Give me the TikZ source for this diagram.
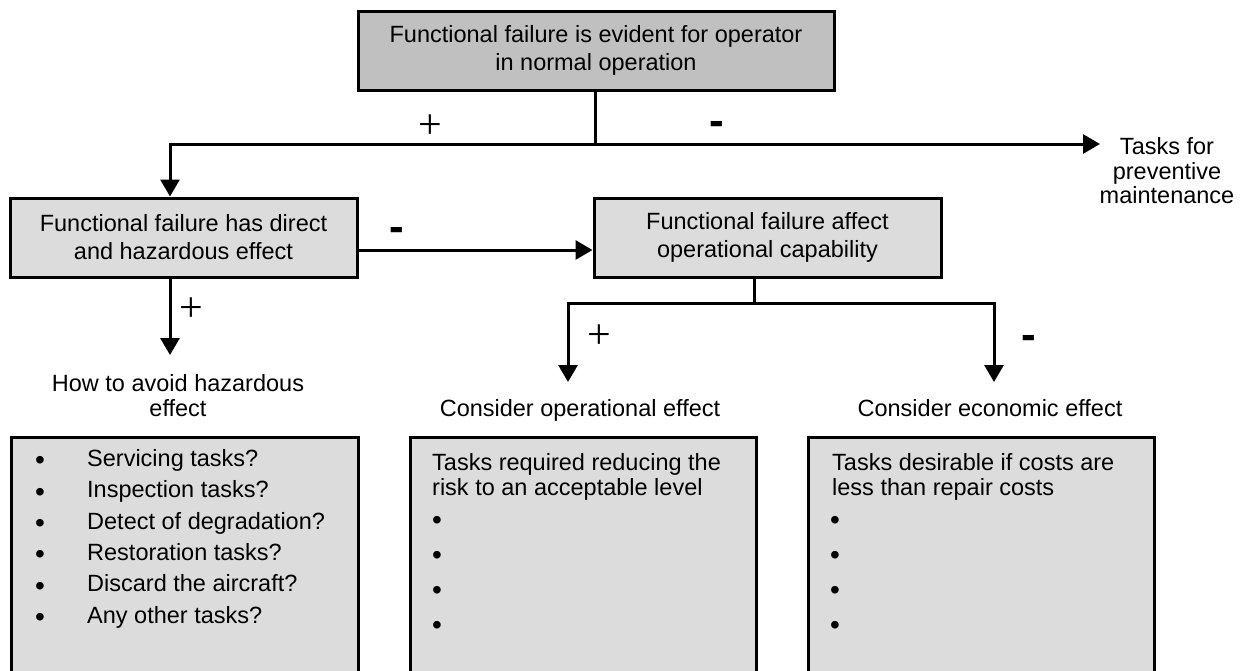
\documentclass[tikz,border=0pt]{standalone}
\usepackage{fontspec}
\setmainfont{Liberation Sans}
\newfontfamily\plusfont{Liberation Serif}
\usetikzlibrary{arrows.meta}
\definecolor{darkfill}{RGB}{192,192,192}
\definecolor{lightfill}{RGB}{220,220,220}
\newcommand\mybullet{\raisebox{-3.5pt}{\fontsize{28}{28}\selectfont •}}
\begin{document}
\begin{tikzpicture}[x=1pt,y=-1pt,
  txt/.style={font=\fontsize{23.5}{28}\selectfont, inner sep=0pt},
  box/.style={draw=black, line width=3pt, inner sep=0pt, align=center,
    font=\fontsize{23.5}{28}\selectfont},
  listbox/.style={draw=black, line width=3pt, inner sep=0pt, fill=lightfill,
    minimum height=280pt, anchor=north west},
  arr/.style={line width=3pt, -{Triangle[length=17pt,width=19pt]}},
  conn/.style={line width=3pt},
  plussign/.style={font=\plusfont\fontsize{42}{42}\selectfont, inner sep=0pt},
  minussign/.style={font=\bfseries\fontsize{44}{44}\selectfont, inner sep=0pt}
]
\clip (0,0) rectangle (1243,670);
\fill[white] (0,0) rectangle (1243,670);

% boxes
\node[box, fill=darkfill, minimum width=476pt, minimum height=79pt] (top) at (596,50.5)
  {Functional failure is evident for operator\\in normal operation};
\node[box, fill=lightfill, minimum width=347pt, minimum height=79pt] (haz) at (183.5,237.5)
  {Functional failure has direct\\and hazardous effect};
\node[box, fill=lightfill, minimum width=347pt, minimum height=79pt] (opcap) at (767.5,237.5)
  {Functional failure affect\\operational capability};

% labels
\node[txt, align=center, font=\fontsize{23.5}{24.5}\selectfont] (prev) at (1167,171)
  {Tasks for\\preventive\\maintenance};
\node[txt, align=center, font=\fontsize{23.5}{25}\selectfont] (avoid) at (178,396)
  {How to avoid hazardous\\effect};
\node[txt, anchor=base] (opeff) at (580,416) {Consider operational effect};
\node[txt, anchor=base] (ecoeff) at (990,416) {Consider economic effect};

% bottom boxes
\node[listbox, minimum width=347pt] (lbox) at (10,436) {};
\node[listbox, minimum width=346pt] (mbox) at (409,436) {};
\node[listbox, minimum width=346pt] (rbox) at (807,436) {};

\node[txt, anchor=north west, align=left, font=\fontsize{23.5}{31.4}\selectfont] (llist) at (35,449)
  {\makebox[52pt][l]{\mybullet}Servicing tasks?\\
   \makebox[52pt][l]{\mybullet}Inspection tasks?\\
   \makebox[52pt][l]{\mybullet}Detect of degradation?\\
   \makebox[52pt][l]{\mybullet}Restoration tasks?\\
   \makebox[52pt][l]{\mybullet}Discard the aircraft?\\
   \makebox[52pt][l]{\mybullet}Any other tasks?};

\node[txt, anchor=north west, align=left, font=\fontsize{23.5}{25}\selectfont] (mhead) at (432,453)
  {Tasks required reducing the\\risk to an acceptable level};
\node[txt, anchor=north west, align=left, font=\fontsize{23.5}{35}\selectfont] (mbul) at (432,516)
  {\mybullet\\\mybullet\\\mybullet\\\mybullet};
\node[txt, anchor=north west, align=left, font=\fontsize{23.5}{25}\selectfont] (rhead) at (832,453)
  {Tasks desirable if costs are\\less than repair costs};
\node[txt, anchor=north west, align=left, font=\fontsize{23.5}{35}\selectfont] (rbul) at (830,516)
  {\mybullet\\\mybullet\\\mybullet\\\mybullet};

% signs
\node[plussign] (p1) at (430,127) {+};
\node[minussign] (m1) at (717,128) {-};
\node[minussign] (m2) at (397,234) {-};
\node[plussign] (p2) at (191,310) {+};
\node[plussign] (p3) at (599,337) {+};
\node[minussign] (m3) at (1029,342) {-};

% connectors
\coordinate (s1) at (595,144);
\coordinate (l1) at (170,144);
\coordinate (r1) at (1100,144);
\draw[conn] (top.south -| s1) -- (s1);
\draw[arr] (s1) -- (l1) -- (l1 |- haz.north);
\draw[arr] (s1) -- (r1);

\draw[arr] ([yshift=-12.5pt]haz.east) -- ([yshift=-12.5pt]haz.east -| opcap.west);

\coordinate (a1) at (170,355);
\draw[arr] (haz.south -| a1) -- (a1);

\coordinate (s2) at (754,303);
\coordinate (l2) at (568,303);
\coordinate (r2) at (994,303);
\coordinate (l2t) at (568,382);
\coordinate (r2t) at (994,382);
\draw[conn] (opcap.south -| s2) -- (s2);
\draw[arr] (s2) -- (l2) -- (l2t);
\draw[arr] (s2) -- (r2) -- (r2t);
\end{tikzpicture}
\end{document}
